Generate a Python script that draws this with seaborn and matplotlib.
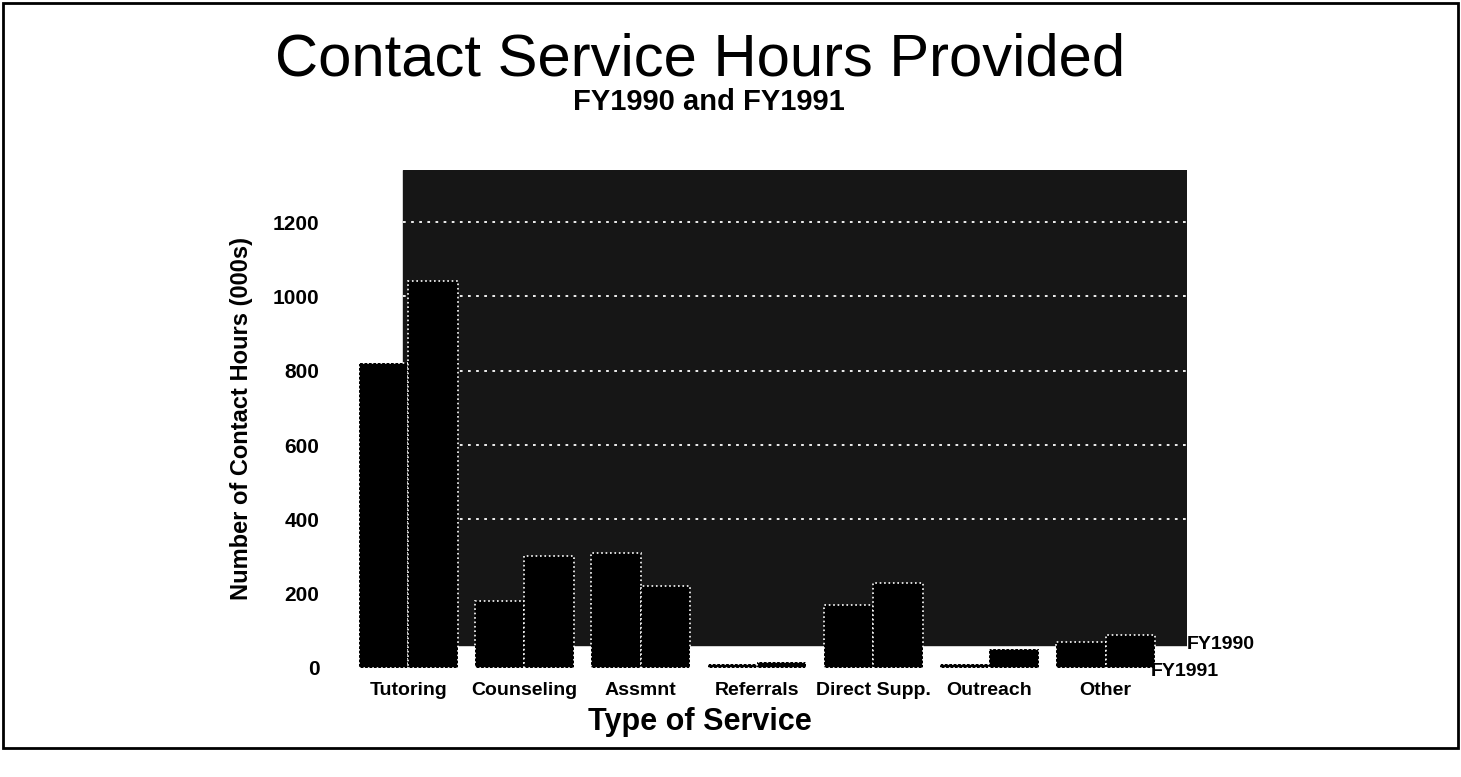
import pandas as pd
import seaborn as sns
import matplotlib.pyplot as plt
from matplotlib.patches import Rectangle

services = ["Tutoring", "Counseling", "Assmnt", "Referrals", "Direct Supp.", "Outreach", "Other"]
fy1990 = [1040, 300, 220, 15, 230, 50, 90]
fy1991 = [820, 180, 310, 10, 170, 10, 70]
y_ticks = [0, 200, 400, 600, 800, 1000, 1200]

df = pd.DataFrame({
    "service": services * 2,
    "hours": fy1991 + fy1990,
    "year": ["FY1991"] * len(services) + ["FY1990"] * len(services),
})

sns.set_style("white")
plt.rcParams['font.family'] = ['Liberation Sans', 'DejaVu Sans']
plt.rcParams['text.color'] = 'black'
plt.rcParams['axes.labelcolor'] = 'black'
plt.rcParams['xtick.color'] = 'black'
plt.rcParams['ytick.color'] = 'black'

fig = plt.figure(figsize=(14.61, 7.77), dpi=100)
ax = fig.add_axes([0.2396, 0.1403, 0.5729, 0.6409])

# dark back wall of the old 3D chart
ax.axhspan(62, 1340, xmin=0.063, xmax=1, color="#161616", zorder=0)
for v in y_ticks[2:]:
    ax.axhline(v, xmin=0.063, xmax=1, color="white", ls=(0, (1.5, 3)), lw=1.3, zorder=1)

sns.barplot(data=df, x="service", y="hours", hue="year", hue_order=["FY1991", "FY1990"],
            palette=["black", "black"], width=0.85, edgecolor="white", linewidth=1.2,
            linestyle=":", legend=False, ax=ax, zorder=2)

ax.set_ylim(0, 1340)
ax.set_xlim(-0.5, 6.7)
ax.set_yticks(y_ticks)
ax.set_yticklabels([str(v) for v in y_ticks], fontsize=15, fontweight="bold")
ax.set_xticks(range(len(services)))
ax.set_xticklabels(services, fontsize=14, fontweight="bold")
ax.tick_params(axis="y", length=0, pad=22)
ax.tick_params(axis="x", length=0, pad=10)
for s in ax.spines.values():
    s.set_visible(False)

ax.set_ylabel("Number of Contact Hours (000s)", fontsize=17, fontweight="bold", labelpad=14)
ax.set_xlabel("Type of Service", fontsize=22, fontweight="bold")
ax.xaxis.set_label_coords(0.418, -0.078)

# series names standing in for the depth axis
ax.text(1.0, 0.047, "FY1990", transform=ax.transAxes, fontsize=14, fontweight="bold", ha="left", va="center")
ax.text(0.957, -0.008, "FY1991", transform=ax.transAxes, fontsize=14, fontweight="bold", ha="left", va="center")

fig.text(0.479, 0.923, "Contact Service Hours Provided", fontsize=43, ha="center", va="center")
fig.text(0.485, 0.869, "FY1990 and FY1991", fontsize=21, fontweight="bold", ha="center", va="center")

fig.patches.append(Rectangle((3 / 1461, 1 - 748 / 777), 1455 / 1461, 745 / 777, fill=False,
                             edgecolor="black", linewidth=2, transform=fig.transFigure, figure=fig))

fig.savefig("out.png", dpi=100)
